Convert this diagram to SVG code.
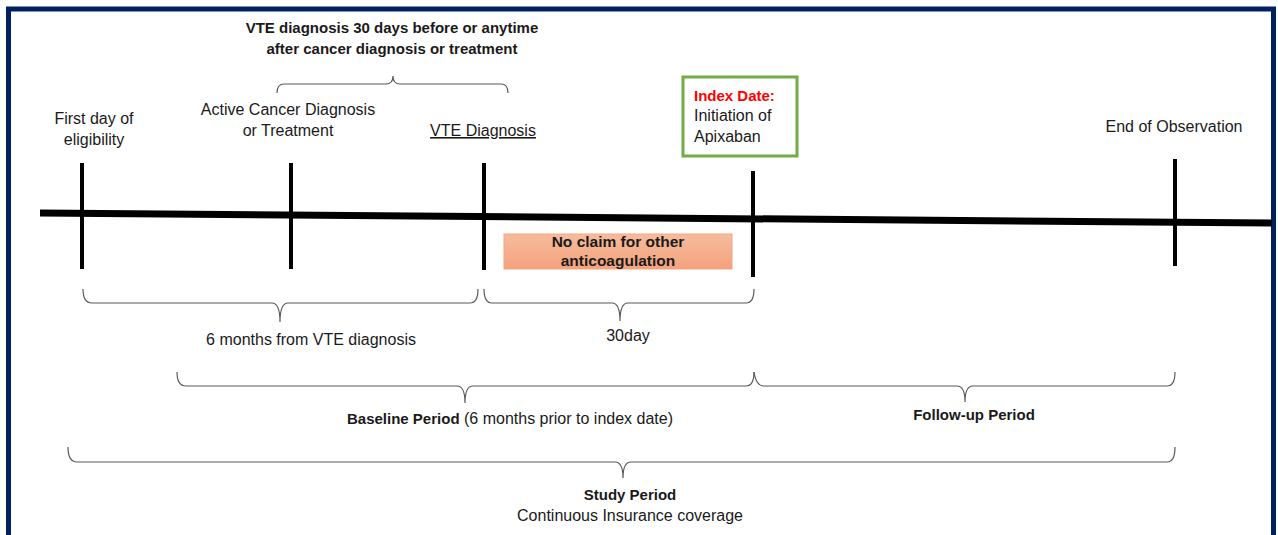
<svg xmlns="http://www.w3.org/2000/svg" width="1278" height="535" viewBox="0 0 1278 535">
<defs>
<linearGradient id="og" x1="0" y1="0" x2="0" y2="1">
<stop offset="0" stop-color="#F6BC9E"/>
<stop offset="1" stop-color="#F4A27C"/>
</linearGradient>
</defs>
<style>
text{font-family:"Liberation Sans",Arial,sans-serif;font-size:16px;fill:#1a1a1a;text-anchor:middle}
.b{font-weight:bold;font-size:15px}
.tick{stroke:#000;stroke-width:4}
.brace{fill:none;stroke:#595959;stroke-width:1.2}
</style>
<rect x="0" y="0" width="1278" height="535" fill="#fff"/>
<rect id="frame" x="8.5" y="9" width="1265" height="560" fill="none" stroke="#002060" stroke-width="5"/>
<g id="timeline">
<line x1="40" y1="213" x2="1272" y2="223" stroke="#000" stroke-width="7"/>
<line class="tick" x1="82" y1="163" x2="82" y2="269"/>
<line class="tick" x1="291" y1="163" x2="291" y2="269"/>
<line class="tick" x1="484" y1="163" x2="484" y2="270"/>
<line class="tick" x1="753" y1="171" x2="753" y2="277"/>
<line class="tick" x1="1175" y1="159" x2="1175" y2="266"/>
</g>
<g id="connectors">
<path class="brace" d="M277,93 Q277,84 284,84 L386,84 Q393,84 393,76 Q393,84 400,84 L501,84 Q508,84 508,93"/>
<path class="brace" d="M83,289 Q83,303 92,303 L272,303 Q280,303 280,322 Q280,303 288,303 L470,303 Q478,303 478,289"/>
<path class="brace" d="M484,289 Q484,303 492,303 L612,303 Q620,303 620,321 Q620,303 628,303 L746,303 Q754,303 754,289"/>
<path class="brace" d="M177,372 Q177,386 186,386 L457,386 Q465,386 465,403 Q465,386 473,386 L746,386 Q754,386 754,372"/>
<path class="brace" d="M754,372 Q756,386 764,386 L957,386 Q965,386 965,402 Q965,386 973,386 L1167,386 Q1175,386 1175,372"/>
<path class="brace" d="M68,447 Q68,462 77,462 L615,462 Q623,462 623,478 Q623,462 631,462 L1167,462 Q1175,462 1175,447"/>
</g>
<g id="n-top">
<text class="b" x="392" y="33">VTE diagnosis 30 days before or anytime</text>
<text class="b" x="392" y="54">after cancer diagnosis or treatment</text>
</g>
<g id="n-first">
<text x="94" y="124">First day of</text>
<text x="94" y="145">eligibility</text>
</g>
<g id="n-cancer">
<text x="288" y="115">Active Cancer Diagnosis</text>
<text x="288" y="136">or Treatment</text>
</g>
<g id="n-vte">
<text x="483" y="136" text-decoration="underline">VTE Diagnosis</text>
</g>
<g id="n-index">
<rect x="683" y="77" width="114" height="79" fill="#fff" stroke="#70AD47" stroke-width="3"/>
<text class="b" x="694" y="101" style="text-anchor:start;fill:#FF0000">Index Date:</text>
<text x="694" y="121" style="text-anchor:start">Initiation of</text>
<text x="694" y="142" style="text-anchor:start">Apixaban</text>
</g>
<g id="n-end">
<text x="1174" y="132">End of Observation</text>
</g>
<g id="n-noclaim">
<rect x="504" y="234" width="228" height="35" fill="url(#og)" stroke="#F4A582" stroke-width="1"/>
<text class="b" x="618" y="247" style="font-size:15.5px">No claim for other</text>
<text class="b" x="618" y="266" style="font-size:15.5px">anticoagulation</text>
</g>
<g id="n-6m"><text x="311" y="345">6 months from VTE diagnosis</text></g>
<g id="n-30"><text x="628" y="341">30day</text></g>
<g id="n-baseline"><text x="510" y="424"><tspan class="b">Baseline Period</tspan> (6 months prior to index date)</text></g>
<g id="n-follow"><text class="b" x="974" y="420">Follow-up Period</text></g>
<g id="n-study">
<text class="b" x="630" y="500">Study Period</text>
<text x="630" y="521">Continuous Insurance coverage</text>
</g>
</svg>
